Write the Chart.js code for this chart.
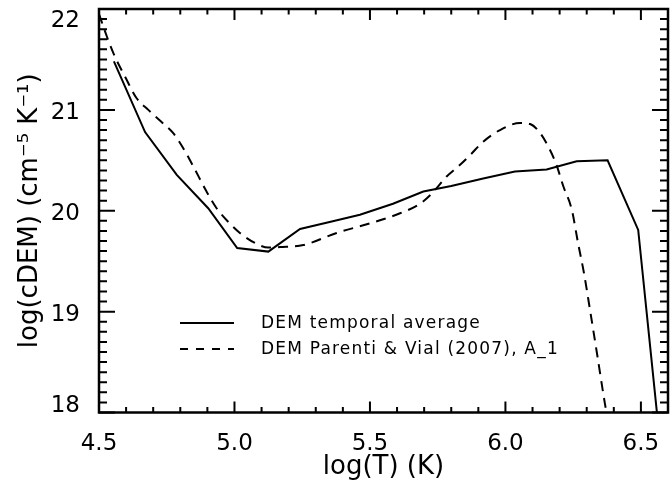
<!DOCTYPE html>
<html>
<head>
<meta charset="utf-8">
<script src="https://cdn.jsdelivr.net/npm/chart.js@4.4.1/dist/chart.umd.min.js"></script>
<style>
  html, body { margin: 0; padding: 0; background: #fff; }
  #wrap { width: 670px; height: 483px; position: relative; }
</style>
</head>
<body>
<div id="wrap"><canvas id="dem"></canvas></div>
<script>
// ── Data ─────────────────────────────────────────────────────
const xTicks = [4.5, 5.0, 5.5, 6.0, 6.5];
const yTicks = [18, 19, 20, 21, 22];

// DEM temporal average (solid)
const avgLogT = [4.555, 4.670, 4.787, 4.903, 5.010, 5.125, 5.242, 5.355, 5.463, 5.585,
                 5.697, 5.800, 5.918, 6.035, 6.152, 6.263, 6.377, 6.490, 6.603];
const avgDEM  = [21.48, 20.78, 20.355, 20.025, 19.63, 19.595, 19.82, 19.89, 19.96, 20.07,
                 20.19, 20.245, 20.32, 20.39, 20.41, 20.49, 20.50, 19.81, 16.85];

// DEM Parenti & Vial (2007), A_1 (dashed)
const pvLogT = [4.500, 4.530, 4.560, 4.596, 4.639, 4.682, 4.731, 4.774, 4.811, 4.848,
                4.897, 4.934, 4.977, 5.020, 5.076, 5.125, 5.168, 5.254, 5.377, 5.500,
                5.611, 5.685, 5.728, 5.783, 5.826, 5.869, 5.918, 5.980, 6.054, 6.091,
                6.128, 6.165, 6.189, 6.214, 6.245, 6.268, 6.290, 6.312, 6.340, 6.367, 6.373];
const pvDEM  = [21.95, 21.72, 21.52, 21.33, 21.115, 21.00, 20.88, 20.77, 20.62, 20.44,
                20.19, 20.025, 19.89, 19.78, 19.68, 19.635, 19.64, 19.66, 19.78, 19.875,
                19.975, 20.07, 20.17, 20.34, 20.44, 20.55, 20.685, 20.80, 20.87, 20.86,
                20.77, 20.60, 20.45, 20.24, 20.01, 19.68, 19.38, 19.02, 18.55, 18.09, 18.0];

const FONT = 'DejaVu Sans';
const toPts = (xs, ys) => xs.map((x, i) => ({ x, y: ys[i] }));

// ── IDL-style frame: box + inward ticks on all four sides ────
const frameTicks = {
  id: 'frameTicks',
  afterDraw(chart) {
    const { ctx, chartArea: a, scales: { x, y } } = chart;
    ctx.save();
    ctx.strokeStyle = '#000';
    ctx.lineWidth = 2;
    ctx.beginPath();
    const nx = Math.round((x.max - x.min) / 0.1);
    for (let k = 0; k <= nx; k++) {
      const px = x.getPixelForValue(x.min + k * 0.1);
      const len = k % 5 === 0 ? 11 : 5.5;
      ctx.moveTo(px, a.bottom); ctx.lineTo(px, a.bottom - len);
      ctx.moveTo(px, a.top);    ctx.lineTo(px, a.top + len);
    }
    const ny = Math.round((y.max - y.min) / 0.1);
    for (let k = 0; k <= ny; k++) {
      const py = y.getPixelForValue(y.min + k * 0.1);
      const len = k % 10 === 0 ? 16 : 8;
      ctx.moveTo(a.left, py);  ctx.lineTo(a.left + len, py);
      ctx.moveTo(a.right, py); ctx.lineTo(a.right - len, py);
    }
    ctx.stroke();
    ctx.lineWidth = 2.5;
    ctx.strokeRect(a.left, a.top, a.right - a.left, a.bottom - a.top);
    ctx.restore();
  }
};

// ── Legend drawn inside the plot, lower left ─────────────────
const innerLegend = {
  id: 'innerLegend',
  afterDraw(chart) {
    const { ctx, chartArea: a } = chart;
    const x0 = a.left + 81, x1 = a.left + 135, tx = a.left + 162;
    ctx.save();
    ctx.font = `17px "${FONT}"`;
    ctx.letterSpacing = '1.2px';
    ctx.fillStyle = '#000';
    ctx.textBaseline = 'middle';
    chart.data.datasets.forEach((ds, i) => {
      const yy = 323 + i * 26;
      ctx.strokeStyle = ds.borderColor;
      ctx.lineWidth = ds.borderWidth;
      ctx.setLineDash(i === 1 ? [8, 8] : []);
      ctx.beginPath();
      ctx.moveTo(x0, yy); ctx.lineTo(x1, yy);
      ctx.stroke();
      ctx.fillText(ds.label, tx, yy + 1);
    });
    ctx.restore();
  }
};

new Chart(document.getElementById('dem'), {
  type: 'scatter',
  data: {
    datasets: [
      {
        label: 'DEM temporal average',
        data: toPts(avgLogT, avgDEM),
        showLine: true,
        borderColor: '#000',
        borderWidth: 2,
        pointRadius: 0,
        tension: 0,
      },
      {
        label: 'DEM Parenti & Vial (2007), A_1',
        data: toPts(pvLogT, pvDEM),
        showLine: true,
        borderColor: '#000',
        borderWidth: 2,
        borderDash: [10, 7],
        pointRadius: 0,
        cubicInterpolationMode: 'monotone',
      },
    ]
  },
  options: {
    animation: false,
    responsive: true,
    maintainAspectRatio: false,
    layout: { padding: { top: 9, right: 2, left: 0, bottom: 0 } },
    plugins: { legend: { display: false }, tooltip: { enabled: false } },
    scales: {
      x: {
        type: 'linear',
        min: 4.5,
        max: 6.6,
        grid: { display: false },
        border: { display: false },
        afterBuildTicks: s => { s.ticks = xTicks.map(v => ({ value: v })); },
        afterFit: s => {
          s.height = 70.5;
          s.paddingLeft = s.paddingRight = 0;
        },
        ticks: {
          color: '#000',
          font: { family: FONT, size: 23 },
          padding: 10,
          maxRotation: 0,
          autoSkip: false,
          callback: v => v.toFixed(1),
        },
        title: {
          display: true,
          text: 'log(T) (K)',
          color: '#000',
          font: { family: FONT, size: 26 },
          padding: { top: 0, bottom: 0 },
        },
      },
      y: {
        type: 'linear',
        min: 18,
        max: 22,
        grid: { display: false },
        border: { display: false },
        afterBuildTicks: s => { s.ticks = yTicks.map(v => ({ value: v })); },
        afterFit: s => {
          s.width = 99;
          s.paddingTop = s.paddingBottom = 0;
        },
        ticks: {
          color: '#000',
          font: { family: FONT, size: 23, lineHeight: '18.5px' },
          padding: 11,
          labelOffset: 3,
          autoSkip: false,
          // end labels are pulled inside the frame, like the original
          callback: (v, i, t) => i === t.length - 1 ? ['', String(v)]
                                : i === 0 ? [String(v), ''] : String(v),
        },
        title: {
          display: true,
          text: 'log(cDEM) (cm⁻⁵ K⁻¹)',
          color: '#000',
          font: { family: FONT, size: 26 },
          padding: { top: 15, bottom: 0 },
        },
      },
    },
  },
  plugins: [frameTicks, innerLegend],
});
</script>
</body>
</html>
